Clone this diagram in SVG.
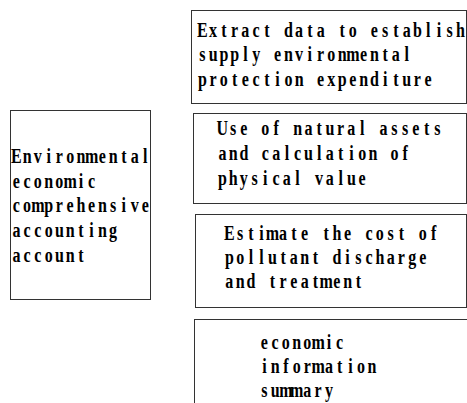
<svg xmlns="http://www.w3.org/2000/svg" width="467" height="403" viewBox="0 0 467 403">
  <style>
    .box { fill: #ffffff; stroke: #333333; stroke-width: 1; }
    .lbl { font-family: "Liberation Serif", "DejaVu Serif", serif; font-size: 20px; font-weight: bold; fill: #000000; text-anchor: middle; }
  </style>
  <rect x="0" y="0" width="467" height="403" fill="#ffffff"/>
  <!-- Labels are set on a fixed 10.75px character grid; each text block is
       condensed to 80% width, so the grid is 13.4375 units in local coords. -->

  <g id="node-account">
    <rect class="box" x="10.5" y="110.5" width="140" height="189"/>
    <g transform="scale(0.8,1)">
      <text class="lbl" y="163" x="20.5 33.9 47.3 60.8 74.2 87.7 101.1 114.5 128 141.4 154.8 168.3 181.7">Environmental</text>
      <text class="lbl" y="188" x="20.5 33.9 47.3 60.8 74.2 87.7 101.1 114.5">economic</text>
      <text class="lbl" y="212" x="20.5 33.9 47.3 60.8 74.2 87.7 101.1 114.5 128 141.4 154.8 168.3 181.7">comprehensive</text>
      <text class="lbl" y="237" x="20.5 33.9 47.3 60.8 74.2 87.7 101.1 114.5 128 141.4">accounting</text>
      <text class="lbl" y="262" x="20.5 33.9 47.3 60.8 74.2 87.7 101.1">account</text>
    </g>
  </g>

  <g id="node-expenditure">
    <rect class="box" x="191.5" y="10.5" width="275" height="93"/>
    <g transform="scale(0.8,1)">
      <text class="lbl" y="37" x="253 266.4 279.8 293.3 306.7 320.2 333.6 347 360.5 373.9 387.3 400.8 414.2 427.7 441.1 454.5 468 481.4 494.8 508.3 521.7 535.2 548.6 562 575.5">Extract data to establish</text>
      <text class="lbl" y="61" x="253 266.4 279.8 293.3 306.7 320.2 333.6 347 360.5 373.9 387.3 400.8 414.2 427.7 441.1 454.5 468 481.4 494.8 508.3">supply environmental</text>
      <text class="lbl" y="86" x="253 266.4 279.8 293.3 306.7 320.2 333.6 347 360.5 373.9 387.3 400.8 414.2 427.7 441.1 454.5 468 481.4 494.8 508.3 521.7 535.2">protection expenditure</text>
    </g>
  </g>

  <g id="node-assets">
    <rect class="box" x="193.5" y="113.5" width="273" height="90"/>
    <g transform="scale(0.8,1)">
      <text class="lbl" y="135" x="278 291.4 304.8 318.3 331.7 345.2 358.6 372 385.5 398.9 412.3 425.8 439.2 452.7 466.1 479.5 493 506.4 519.8 533.3 546.7">Use of natural assets</text>
      <text class="lbl" y="160" x="278 291.4 304.8 318.3 331.7 345.2 358.6 372 385.5 398.9 412.3 425.8 439.2 452.7 466.1 479.5 493 506.4">and calculation of</text>
      <text class="lbl" y="185" x="278 291.4 304.8 318.3 331.7 345.2 358.6 372 385.5 398.9 412.3 425.8 439.2 452.7">physical value</text>
    </g>
  </g>

  <g id="node-pollution">
    <rect class="box" x="195.5" y="214.5" width="271" height="93"/>
    <g transform="scale(0.8,1)">
      <text class="lbl" y="240" x="286.7 300.2 313.6 327 340.5 353.9 367.3 380.8 394.2 407.7 421.1 434.5 448 461.4 474.8 488.3 501.7 515.2 528.6 542">Estimate the cost of</text>
      <text class="lbl" y="264" x="286.7 300.2 313.6 327 340.5 353.9 367.3 380.8 394.2 407.7 421.1 434.5 448 461.4 474.8 488.3 501.7 515.2 528.6">pollutant discharge</text>
      <text class="lbl" y="288" x="286.7 300.2 313.6 327 340.5 353.9 367.3 380.8 394.2 407.7 421.1 434.5 448">and treatment</text>
    </g>
  </g>

  <g id="node-summary">
    <rect class="box" x="194.5" y="319.5" width="280" height="100"/>
    <g transform="scale(0.8,1)">
      <text class="lbl" y="349" x="330.5 343.9 357.3 370.8 384.2 397.7 411.1 424.5">economic</text>
      <text class="lbl" y="373" x="330.5 343.9 357.3 370.8 384.2 397.7 411.1 424.5 438 451.4 464.8">information</text>
      <text class="lbl" y="397" x="330.5 343.9 357.3 370.8 384.2 397.7 411.1">summary</text>
    </g>
  </g>
</svg>
